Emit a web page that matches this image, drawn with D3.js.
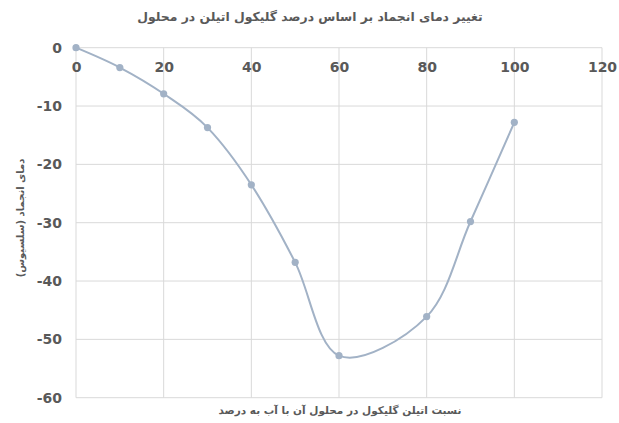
<!DOCTYPE html>
<html>
<head>
<meta charset="utf-8">
<script src="https://cdn.jsdelivr.net/npm/d3@7"></script>
<style>
  html, body { margin: 0; padding: 0; background: #fff; }
  svg { display: block; }
</style>
</head>
<body>
<svg id="chart" width="619" height="423"></svg>
<script>
// Freezing point of ethylene glycol / water mixtures
const percentGlycol = [0, 10, 20, 30, 40, 50, 60, 80, 90, 100];
const freezingPoint = [0, -3.4, -7.9, -13.7, -23.5, -36.8, -52.8, -46.1, -29.8, -12.8];
const xTicks = [0, 20, 40, 60, 80, 100, 120];
const yTicks = [0, -10, -20, -30, -40, -50, -60];

const chartTitle = "تغییر دمای انجماد بر اساس درصد گلیکول اتیلن در محلول";
const xTitle = "نسبت اتیلن گلیکول در محلول آن با آب به درصد";
const yTitle = "دمای انجماد (سلسیوس)";

(function () {
  const svg = d3.select("#chart");
  const plotLeft = 76, plotRight = 602, plotTop = 47.7, plotBottom = 397.7;

  const x = d3.scaleLinear().domain([0, 120]).range([plotLeft, plotRight]);
  const y = d3.scaleLinear().domain([-60, 0]).range([plotBottom, plotTop]);

  const gridColor = "#d9d9d9";
  const textColor = "#595959";
  const lineColor = "#a2b2c6";

  // gridlines
  const grid = svg.append("g");
  grid.selectAll("line.v").data(xTicks).join("line").attr("class", "v")
    .attr("x1", d => x(d)).attr("x2", d => x(d))
    .attr("y1", plotTop).attr("y2", plotBottom)
    .attr("stroke", gridColor).attr("stroke-width", 1);
  grid.selectAll("line.h").data(yTicks).join("line").attr("class", "h")
    .attr("x1", plotLeft).attr("x2", plotRight)
    .attr("y1", d => y(d)).attr("y2", d => y(d))
    .attr("stroke", gridColor).attr("stroke-width", 1);

  // x axis labels sit just under the zero line
  const xAxis = d3.axisBottom(x).tickValues(xTicks).tickSize(0).tickPadding(14).tickFormat(d3.format("d"));
  svg.append("g").attr("transform", `translate(0,${y(0)})`).call(xAxis)
    .call(g => g.select(".domain").remove())
    .call(g => g.selectAll("text")
      .attr("font-family", "DejaVu Sans, Verdana, sans-serif")
      .attr("font-size", 14).attr("font-weight", "bold").attr("fill", textColor));

  const yAxis = d3.axisLeft(y).tickValues(yTicks).tickSize(0).tickPadding(14).tickFormat(d3.format("d"));
  svg.append("g").attr("transform", `translate(${plotLeft},0)`).call(yAxis)
    .call(g => g.select(".domain").remove())
    .call(g => g.selectAll("text")
      .attr("font-family", "DejaVu Sans, Verdana, sans-serif")
      .attr("font-size", 14).attr("font-weight", "bold").attr("fill", textColor)
      .text(d => d3.format("d")(d).replace("\u2212", "-")));

  // smoothed series line
  const pts = percentGlycol.map((p, i) => [p, freezingPoint[i]]);
  const line = d3.line().x(d => x(d[0])).y(d => y(d[1])).curve(d3.curveCardinal.tension(0));
  svg.append("path").datum(pts)
    .attr("d", line).attr("fill", "none")
    .attr("stroke", lineColor).attr("stroke-width", 2);

  svg.append("g").selectAll("circle").data(pts).join("circle")
    .attr("cx", d => x(d[0])).attr("cy", d => y(d[1]))
    .attr("r", 3.6).attr("fill", lineColor);

  // titles
  svg.append("text").attr("x", 310).attr("y", 21)
    .attr("text-anchor", "middle").attr("direction", "rtl")
    .attr("font-family", "DejaVu Sans, sans-serif").attr("font-size", 12.4).attr("font-weight", "bold")
    .attr("fill", textColor).text(chartTitle);

  svg.append("text").attr("x", 340).attr("y", 414)
    .attr("text-anchor", "middle").attr("direction", "rtl")
    .attr("font-family", "DejaVu Sans, sans-serif").attr("font-size", 10.5).attr("font-weight", "bold")
    .attr("fill", textColor).text(xTitle);

  svg.append("text")
    .attr("transform", "translate(24,218) rotate(-90)")
    .attr("text-anchor", "middle").attr("direction", "rtl")
    .attr("font-family", "DejaVu Sans, sans-serif").attr("font-size", 10).attr("font-weight", "bold")
    .attr("fill", textColor).text(yTitle);
})();
</script>
</body>
</html>
